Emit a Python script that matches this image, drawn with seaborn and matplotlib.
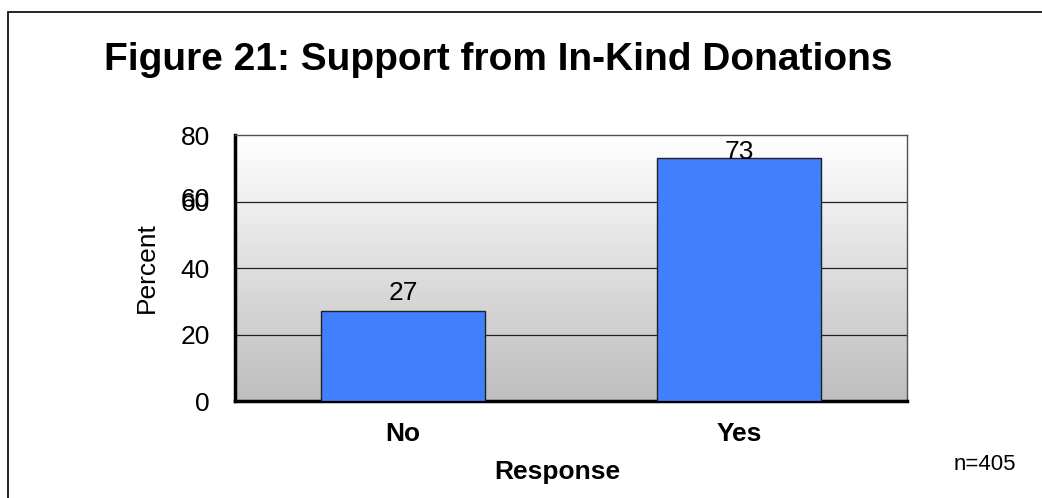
import matplotlib
matplotlib.use("Agg")
import matplotlib.pyplot as plt
import seaborn as sns
import numpy as np
import pandas as pd
from matplotlib.patches import Rectangle
from matplotlib.colors import LinearSegmentedColormap
import matplotlib.transforms as mtransforms

categories = ["No", "Yes"]
percent = [27, 73]
yticks = [0, 20, 40, 60, 80]

sns.set_theme(style="white")
plt.rcParams['font.family'] = ['Liberation Sans', 'DejaVu Sans']
plt.rcParams['text.color'] = 'black'
plt.rcParams['axes.labelcolor'] = 'black'
plt.rcParams['xtick.color'] = 'black'
plt.rcParams['ytick.color'] = 'black'

FS = 19

df = pd.DataFrame({"Response": categories, "Percent": percent})

fig = plt.figure(figsize=(10.42, 4.98), dpi=100)
W, H = 1042, 498
ax = fig.add_axes([235 / W, 1 - 401 / H, 672 / W, 266 / H])

ymax = yticks[-1]
# gradient background (white at top, grey at bottom)
grad = np.linspace(0, 1, 256).reshape(-1, 1)
cmap = LinearSegmentedColormap.from_list("g", ["#FFFFFF", "#BEBEBE"])
ax.imshow(grad, aspect="auto", cmap=cmap, origin="upper",
          extent=[-0.5, 1.5, 0, ymax], zorder=0)

sns.barplot(data=df, x="Response", y="Percent", ax=ax, color="#4080FF",
            width=0.49, edgecolor="#202020", linewidth=1.0, saturation=1, zorder=3)

ax.set_xlim(-0.5, 1.5)
ax.set_ylim(0, ymax)
ax.set_yticks(yticks)
ax.set_yticklabels([str(t) for t in yticks], fontsize=FS)
ax.tick_params(axis="y", length=0, pad=18)
ax.tick_params(axis="x", length=0, pad=15)
for lab in ax.get_xticklabels():
    lab.set_fontweight("bold")
    lab.set_fontsize(FS)
for t in yticks[1:-1]:
    ax.axhline(t, color="#202020", linewidth=0.9, zorder=1)

# duplicated "60" label, slightly offset, as in the original
dup = ax.text(-0.5, 60.5, "60", ha="right", va="center", fontsize=FS, color="black")
dup.set_transform(ax.transData + mtransforms.ScaledTranslation(-18 / 72, 0, fig.dpi_scale_trans))

for i, v in enumerate(percent):
    if v + 8 > ymax:
        ax.text(i, ymax - 1.5, str(v), ha="center", va="top", fontsize=FS,
                color="black", zorder=5)
    else:
        ax.text(i, v + 2.0, str(v), ha="center", va="bottom", fontsize=FS,
                color="black", zorder=5)

ax.set_ylabel("Percent", fontsize=FS)
ax.yaxis.set_label_coords((159 - 235) / 672, 0.5)
ax.set_xlabel("Response", fontsize=FS, fontweight="bold")
ax.xaxis.label.set_va("center")
ax.xaxis.set_label_coords((557 - 235) / 672, (401 - 472) / 266)

for s in ["left", "bottom"]:
    ax.spines[s].set_linewidth(2.5)
    ax.spines[s].set_color("black")
for s in ["top", "right"]:
    ax.spines[s].set_linewidth(1.0)
    ax.spines[s].set_color("#505050")

fig.text(498 / W, 1 - 60 / H, "Figure 21: Support from In-Kind Donations",
         ha="center", va="center", fontsize=28, fontweight="bold", color="black")
fig.text(985 / W, 1 - 464 / H, "n=405", ha="center", va="center", fontsize=16, color="black")

fig.patches.append(Rectangle((8 / W, -0.1), 1.2, 1 - 12 / H + 0.1, transform=fig.transFigure,
                             fill=False, edgecolor="black", linewidth=1.2))

fig.savefig("out.png", dpi=100)
